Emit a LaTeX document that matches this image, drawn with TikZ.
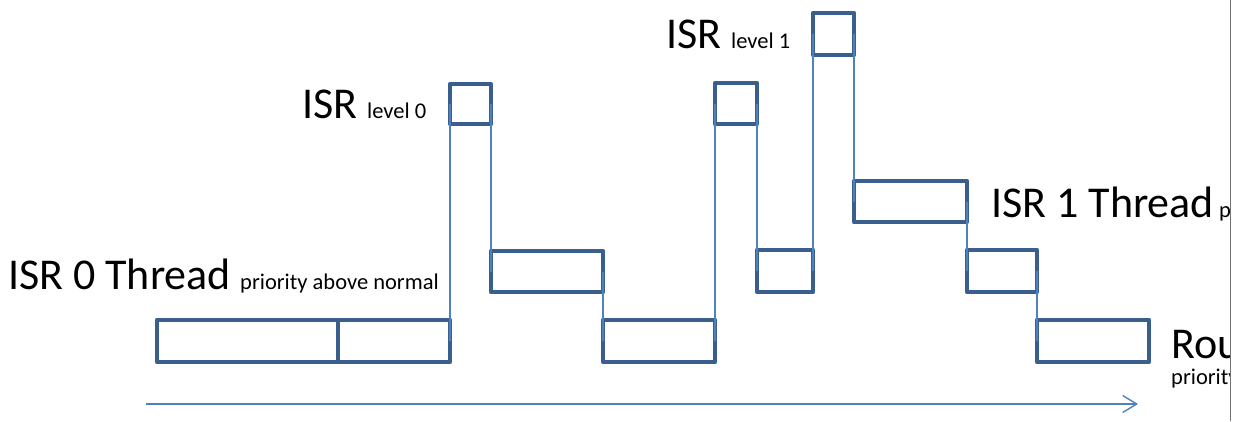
\documentclass[tikz,border=0pt]{standalone}
\usepackage{fontspec}
\setmainfont{Carlito}
\usetikzlibrary{arrows.meta}
\definecolor{boxblue}{RGB}{58,94,142}
\definecolor{lineblue}{RGB}{79,129,189}
\tikzset{
  bx/.style={draw=boxblue, line width=4.5pt, line join=round, rectangle, inner sep=0pt, outer sep=0pt},
  conn/.style={draw=lineblue, line width=1.4pt},
  big/.style={anchor=base west, inner sep=0pt, font=\fontsize{44}{44}\selectfont},
  small/.style={anchor=base west, inner sep=0pt, font=\fontsize{22.5}{22.5}\selectfont},
}
\begin{document}
\begin{tikzpicture}[x=1pt,y=-1pt]
\useasboundingbox (0,0) rectangle (1233,421);
% boxes
\node[bx, minimum width=181pt, minimum height=42pt] (b1a) at (247.5,341) {};
\node[bx, minimum width=112pt, minimum height=42pt] (b1b) at (394,341) {};
\node[bx, minimum width=41pt, minimum height=40pt] (isr0) at (470.5,104) {};
\node[bx, minimum width=112pt, minimum height=41pt] (t1) at (547,271.5) {};
\node[bx, minimum width=112pt, minimum height=42pt] (b2) at (659,341) {};
\node[bx, minimum width=42pt, minimum height=41pt] (isr0b) at (736,103.5) {};
\node[bx, minimum width=56pt, minimum height=42pt] (t2) at (785,271) {};
\node[bx, minimum width=41pt, minimum height=42pt] (isr1) at (833.5,34) {};
\node[bx, minimum width=113pt, minimum height=41pt] (t3) at (910.5,201.5) {};
\node[bx, minimum width=70pt, minimum height=42pt] (t4) at (1002,271) {};
\node[bx, minimum width=112pt, minimum height=42pt] (b3) at (1093,341) {};
% connectors
\draw[conn] (b1b.east) -- (isr0.west);
\draw[conn] (isr0.east) -- (t1.west);
\draw[conn] (t1.east) -- (b2.west);
\draw[conn] (b2.east) -- (isr0b.west);
\draw[conn] (isr0b.east) -- (t2.west);
\draw[conn] (t2.east) -- (isr1.west);
\draw[conn] (isr1.east) -- (t3.west);
\draw[conn] (t3.east) -- (t4.west);
\draw[conn] (t4.east) -- (b3.west);
% time axis
\coordinate (ax0) at (146,404);
\coordinate (ax1) at (1138,404);
\draw[draw=lineblue, line width=1.4pt, -{Straight Barb[length=14pt,width=17pt,line width=1.4pt]}] (ax0) -- (ax1);
% labels (clipped at page edge line, as in the reference)
\begin{scope}
\clip (0,0) rectangle (1229.5,421);
\node[big] (l0) at (302,118) {ISR};
\node[small] (l0s) at (367,118) {level 0};
\node[big] (l1) at (666,48) {ISR};
\node[small] (l1s) at (731,48) {level 1};
\node[big] (th0) at (8,289) {ISR 0 Thread};
\node[small] (th0s) at (240,289) {priority above normal};
\node[big] (th1) at (991,217) {ISR 1 Thread};
\node[small] (th1s) at (1219,217) {priority};
\node[big] (rt) at (1171,358) {Routine};
\node[small] (rts) at (1171,384) {priority normal};
\end{scope}
\coordinate (e0) at (1230.5,0);
\coordinate (e1) at (1230.5,421);
\draw[draw=black!55, line width=1pt] (e0) -- (e1);
\end{tikzpicture}
\end{document}
